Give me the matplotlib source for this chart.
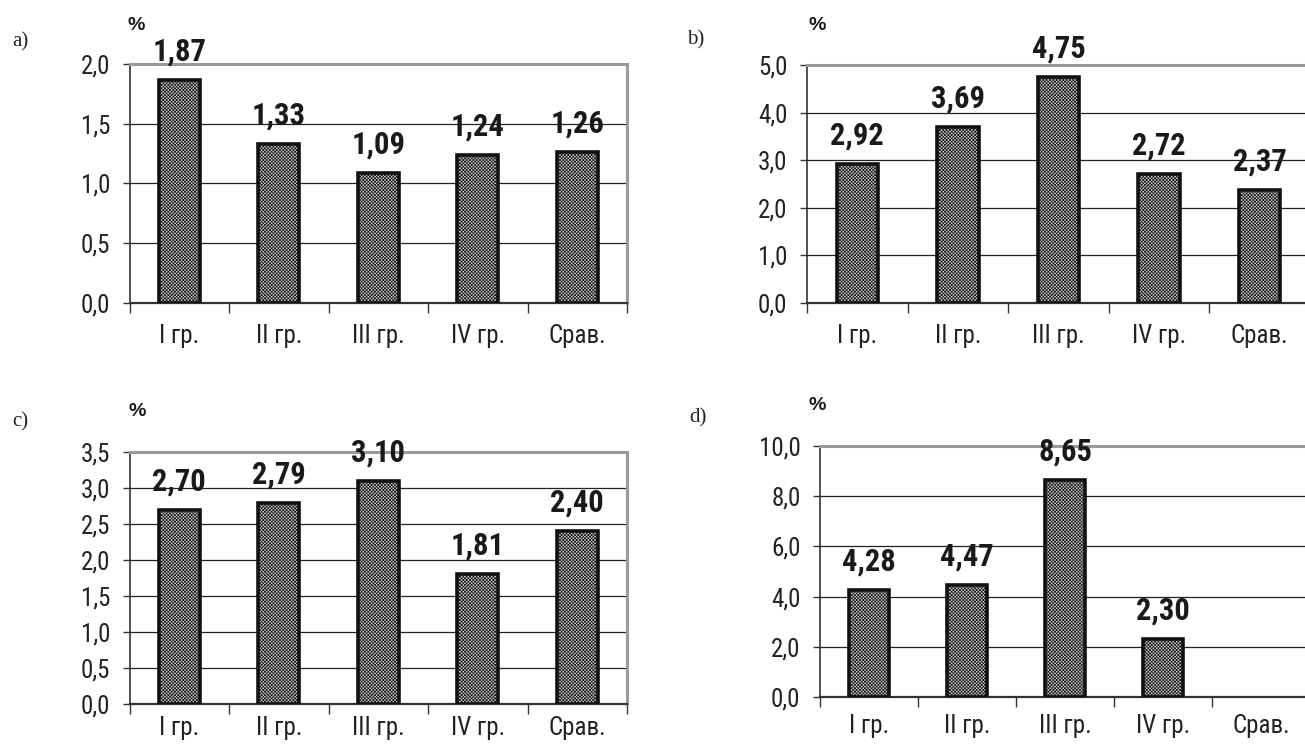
import matplotlib
matplotlib.use("Agg")
import matplotlib.pyplot as plt
import numpy as np
from matplotlib import font_manager

categories = ["I гр.", "II гр.", "III гр.", "IV гр.", "Срав."]
values_a = [1.87, 1.33, 1.09, 1.24, 1.26]
values_b = [2.92, 3.69, 4.75, 2.72, 2.37]
values_c = [2.70, 2.79, 3.10, 1.81, 2.40]
values_d = [4.28, 4.47, 8.65, 2.30, np.nan]

yticks_a = [0.0, 0.5, 1.0, 1.5, 2.0]
yticks_b = [0.0, 1.0, 2.0, 3.0, 4.0, 5.0]
yticks_c = [0.0, 0.5, 1.0, 1.5, 2.0, 2.5, 3.0, 3.5]
yticks_d = [0.0, 2.0, 4.0, 6.0, 8.0, 10.0]

# pick a condensed sans family if one is installed
names = sorted({f.name for f in font_manager.fontManager.ttflist})
cond = [n for n in ["Liberation Sans Narrow", "Arial Narrow", "Roboto Condensed",
                    "Open Sans Condensed", "Noto Sans Condensed", "DejaVu Sans Condensed"]
        if n in names]
if not cond:
    cond = [n for n in names if ("Narrow" in n or "Condensed" in n) and "Serif" not in n and "Mono" not in n]
SANS = (cond[:1] if cond else []) + ["Liberation Sans", "DejaVu Sans"]
SERIF = ["Liberation Serif", "DejaVu Serif"]
NARROW = bool(cond)

plt.rcParams["hatch.linewidth"] = 0.5
plt.rcParams["hatch.color"] = "#111111"

fig = plt.figure(figsize=(13.05, 7.46), dpi=100)

W, H = 1305.0, 746.0

def px_axes(left, right, top, bottom):
    return fig.add_axes([left / W, 1 - bottom / H, (right - left) / W, (bottom - top) / H])

def fmt(v, nd):
    return f"{v:.{nd}f}".replace(".", ",")

VAL_FS = 22 if NARROW else 19
TICK_FS = 18 if NARROW else 15

def panel(ax, vals, yticks, pct_xy, lab, lab_xy, xpad=15):
    x = np.arange(len(categories))
    v = np.array(vals, dtype=float)
    ax.bar(x, v, width=0.41, facecolor="#cfcfcf", edgecolor="#111111",
           linewidth=2.6, hatch="x" * 10, zorder=3)
    for xi, vi in zip(x, v):
        if np.isfinite(vi):
            ax.annotate(fmt(vi, 2), (xi, vi), xytext=(0, 14), textcoords="offset points",
                        ha="center", va="baseline", fontsize=VAL_FS, fontweight="bold",
                        family=SANS, color="#1a1a1a", zorder=5, annotation_clip=False)
    ax.set_xlim(-0.5, len(categories) - 0.5)
    ax.set_ylim(yticks[0], yticks[-1])
    ax.set_yticks(yticks)
    ax.set_yticklabels([fmt(t, 1) for t in yticks], family=SANS, fontsize=TICK_FS, color="#222222")
    ax.set_xticks(x)
    ax.set_xticklabels(categories, family=SANS, fontsize=TICK_FS, color="#222222")
    ax.set_xticks(np.arange(len(categories) + 1) - 0.5, minor=True)
    ax.tick_params(axis="x", which="major", length=0, pad=xpad)
    ax.tick_params(axis="x", which="minor", length=7, width=1.0, color="#333333", direction="out")
    ax.tick_params(axis="y", which="major", length=5, width=1.0, color="#333333", pad=9)
    ax.yaxis.grid(True, color="#222222", linewidth=0.9, zorder=0)
    ax.set_axisbelow(True)
    for s in ("top", "right"):
        ax.spines[s].set_color("#9a9a9a")
        ax.spines[s].set_linewidth(2.2)
    ax.spines["left"].set_color("#333333")
    ax.spines["left"].set_linewidth(1.2)
    ax.spines["bottom"].set_color("#333333")
    ax.spines["bottom"].set_linewidth(1.6)
    fig.text(pct_xy[0] / W, 1 - pct_xy[1] / H, "%", family=["Liberation Sans", "DejaVu Sans"],
             fontsize=14, fontweight="bold", ha="center", va="center", color="#1a1a1a")
    fig.text(lab_xy[0] / W, 1 - lab_xy[1] / H, lab, family=SERIF, fontsize=15,
             ha="center", va="center", color="#222222")

ax_a = px_axes(129.5, 627, 64, 303)
panel(ax_a, values_a, yticks_a, (136, 25), "a)", (20, 42))

ax_b = px_axes(807, 1310, 65, 303)
panel(ax_b, values_b, yticks_b, (817, 25), "b)", (696, 40))

ax_c = px_axes(129.5, 627, 452, 704)
panel(ax_c, values_c, yticks_c, (137, 412), "c)", (20, 422), xpad=9)

ax_d = px_axes(820, 1310, 446, 697)
panel(ax_d, values_d, yticks_d, (817, 405), "d)", (698, 418), xpad=12)

fig.savefig("out.png", dpi=100)
